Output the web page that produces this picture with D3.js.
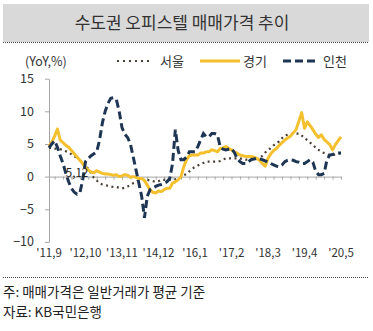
<!DOCTYPE html>
<html><head><meta charset="utf-8">
<script src="https://cdn.jsdelivr.net/npm/d3@7"></script>
<style>
html,body{margin:0;padding:0;background:#fff;}
text{font-family:"Noto Sans CJK KR","Noto Sans",sans-serif;}
</style></head>
<body>
<svg id="c" width="373" height="331"></svg>
<script>
const title = "수도권 오피스텔 매매가격 추이";
const unitLabel = "(YoY,%)";
const seriesNames = ["서울", "경기", "인천"];
const tickLabels = ["'11,9","'12,10","'13,11","'14,12","'16,1","'17,2","'18,3","'19,4","'20,5"];
const tickLabelIdx = [0,13,26,39,52,65,78,91,104];
const yTicks = [-10,-5,0,5,10,15];
const annotation = "5,12";
const notes = ["주: 매매가격은 일반거래가 평균 기준", "자료: KB국민은행"];

const seoul = [
 4.4,4.4,4.3,4.3,4.2,4.1,3.9,3.7,3.4,3.1,
 2.9,2.5,2.0,1.6,1.2,0.5,-0.2,-0.6,-1.0,-1.2,
 -1.3,-1.4,-1.5,-1.6,-1.6,-1.7,-1.8,-1.7,-1.5,-1.3,
 -1.0,-0.8,-0.5,-0.4,-0.4,-0.5,-0.6,-0.7,-0.8,-0.7,
 -0.5,-0.5,-0.5,-0.5,-0.4,-0.4,-0.3,-0.1,0.2,0.4,
 0.8,1.2,1.5,1.7,1.9,2.1,2.3,2.3,2.3,2.3,
 2.3,2.4,2.6,2.8,2.8,2.8,2.8,2.8,2.8,2.7,
 2.6,2.6,2.6,2.6,2.7,2.8,3.2,3.7,4.0,4.4,
 4.8,5.1,5.4,5.9,6.3,6.4,6.5,6.6,6.6,6.6,
 6.3,5.9,5.6,5.2,4.9,4.4,4.1,3.8,3.6,3.4,
 3.3,3.3,3.4,3.5,3.6];
const gyeonggi = [
 4.6,5.3,6.2,7.3,5.6,5.2,4.8,4.5,4.0,3.5,
 3.0,2.5,2.0,1.4,1.0,0.7,0.6,0.9,0.7,0.5,
 0.4,0.4,0.3,0.2,0.3,0.0,0.1,0.3,0.2,-0.1,
 0.0,-0.1,-0.3,-0.3,-0.6,-1.3,-2.0,-2.4,-2.5,-2.2,
 -2.3,-2.0,-1.8,-1.8,-1.0,-0.8,-0.5,0.0,1.5,2.6,
 3.2,3.3,3.3,3.3,3.6,3.6,3.8,3.8,4.1,4.0,
 3.8,4.3,4.4,4.6,4.3,4.1,3.8,3.6,3.3,3.2,
 3.1,3.1,3.1,3.0,2.8,2.5,2.0,1.6,2.8,3.5,
 4.0,4.3,4.8,5.2,5.6,5.9,6.2,6.7,7.2,8.5,
 9.8,7.4,8.4,7.8,7.2,6.5,6.0,6.4,5.7,5.3,
 4.9,4.1,4.9,5.5,6.1];
const incheon = [
 4.4,5.0,5.5,4.5,3.2,2.0,0.5,-0.8,-1.8,-2.4,
 -2.7,-2.5,-0.5,2.3,2.8,3.2,3.5,3.8,5.6,8.2,
 10.0,11.2,12.0,12.1,11.8,10.0,7.5,6.5,6.0,5.0,
 3.0,1.0,-1.0,-3.0,-6.3,-3.0,-2.0,-1.8,-1.5,-1.3,
 -1.2,-1.0,-0.8,-0.3,2.0,7.2,4.0,2.6,2.6,3.0,
 3.8,3.8,3.8,4.6,5.6,6.6,6.1,6.1,6.6,6.6,
 6.4,4.5,4.2,4.1,4.2,4.3,3.7,2.8,2.3,2.0,
 2.0,2.3,2.6,2.7,2.8,2.7,2.6,2.4,2.3,2.0,
 1.8,1.6,1.5,1.8,2.3,2.5,2.6,2.5,2.3,2.2,
 2.0,2.0,2.3,2.6,2.2,0.8,0.3,0.3,0.5,2.6,
 3.3,3.4,3.5,3.6,3.6];

const colors = {seoul:"#4a4136", gyeonggi:"#F4C02E", incheon:"#1E3553"};

const svg = d3.select("#c");
svg.append("rect").attr("width",373).attr("height",331).attr("fill","#fff");

// title band
svg.append("rect").attr("x",3).attr("y",4).attr("width",366).attr("height",38).attr("fill","#d9d9d9");
svg.append("line").attr("x1",3).attr("x2",369).attr("y1",42.5).attr("y2",42.5)
  .attr("stroke","#444").attr("stroke-width",1).attr("stroke-dasharray","1,1");
svg.append("text").attr("x",182).attr("y",29).attr("text-anchor","middle")
  .attr("font-size",17).attr("fill","#333").text(title);

const x = d3.scaleLinear().domain([0, seoul.length-1]).range([49, 341]);
const y = d3.scaleLinear().domain([-10, 15]).range([241.9, 78.7]);

// y axis
const ya = svg.append("g").attr("transform","translate(49,0)")
  .call(d3.axisLeft(y).tickValues(yTicks).tickSize(4).tickPadding(11).tickSizeOuter(0));
ya.select(".domain").attr("stroke","#a6a6a6");
ya.selectAll(".tick line").attr("stroke","#a6a6a6");
ya.selectAll("text").attr("font-size",12.5).attr("fill","#333")
  .attr("font-family",'"Noto Sans CJK KR","Noto Sans",sans-serif');

// x axis at zero
const tickIdx = d3.range(2, seoul.length, 3);
const xa = svg.append("g").attr("transform",`translate(0,${y(0)})`)
  .call(d3.axisBottom(x).tickValues(tickIdx).tickSize(3).tickFormat("").tickSizeOuter(0));
xa.select(".domain").attr("stroke","#a6a6a6");
xa.selectAll(".tick line").attr("stroke","#a6a6a6");

svg.append("g").selectAll("text").data(tickLabels).join("text")
  .attr("x",(d,i)=>x(tickLabelIdx[i])).attr("y",257).attr("text-anchor","middle")
  .attr("font-size",11.5).attr("fill","#333").text(d=>d);

// lines
const line = d3.line().x((d,i)=>x(i)).y(d=>y(d));
svg.append("path").datum(seoul).attr("d",line).attr("fill","none")
  .attr("stroke",colors.seoul).attr("stroke-width",2.2).attr("stroke-dasharray","2,3.5");
svg.append("path").datum(gyeonggi).attr("d",line).attr("fill","none")
  .attr("stroke",colors.gyeonggi).attr("stroke-width",3).attr("stroke-linejoin","round");
svg.append("path").datum(incheon).attr("d",line).attr("fill","none")
  .attr("stroke",colors.incheon).attr("stroke-width",3).attr("stroke-dasharray","8,4");

// annotation
svg.append("text").attr("x",77).attr("y",177).attr("text-anchor","middle")
  .attr("font-size",11.5).attr("fill","#222").text(annotation);

// legend
svg.append("text").attr("x",25).attr("y",66).attr("font-size",12.5).attr("fill","#333").text(unitLabel);
const lg = [
  {x1:117,x2:152,tx:160,c:colors.seoul,w:2.2,dash:"2,4"},
  {x1:200,x2:240,tx:243,c:colors.gyeonggi,w:3,dash:null},
  {x1:283,x2:316,tx:323,c:colors.incheon,w:3,dash:"8,4"}
];
lg.forEach((l,i)=>{
  const ln = svg.append("line").attr("x1",l.x1).attr("x2",l.x2).attr("y1",61).attr("y2",61)
    .attr("stroke",l.c).attr("stroke-width",l.w);
  if(l.dash) ln.attr("stroke-dasharray",l.dash);
  svg.append("text").attr("x",l.tx).attr("y",66).attr("font-size",13).attr("fill","#333").text(seriesNames[i]);
});

// footer
svg.append("line").attr("x1",3).attr("x2",369).attr("y1",277.5).attr("y2",277.5)
  .attr("stroke","#444").attr("stroke-width",1).attr("stroke-dasharray","1,1");
svg.append("text").attr("x",3).attr("y",297).attr("font-size",13.5).attr("fill","#222").text(notes[0]);
svg.append("text").attr("x",3).attr("y",317).attr("font-size",13.5).attr("fill","#222").text(notes[1]);
</script>
</body></html>
